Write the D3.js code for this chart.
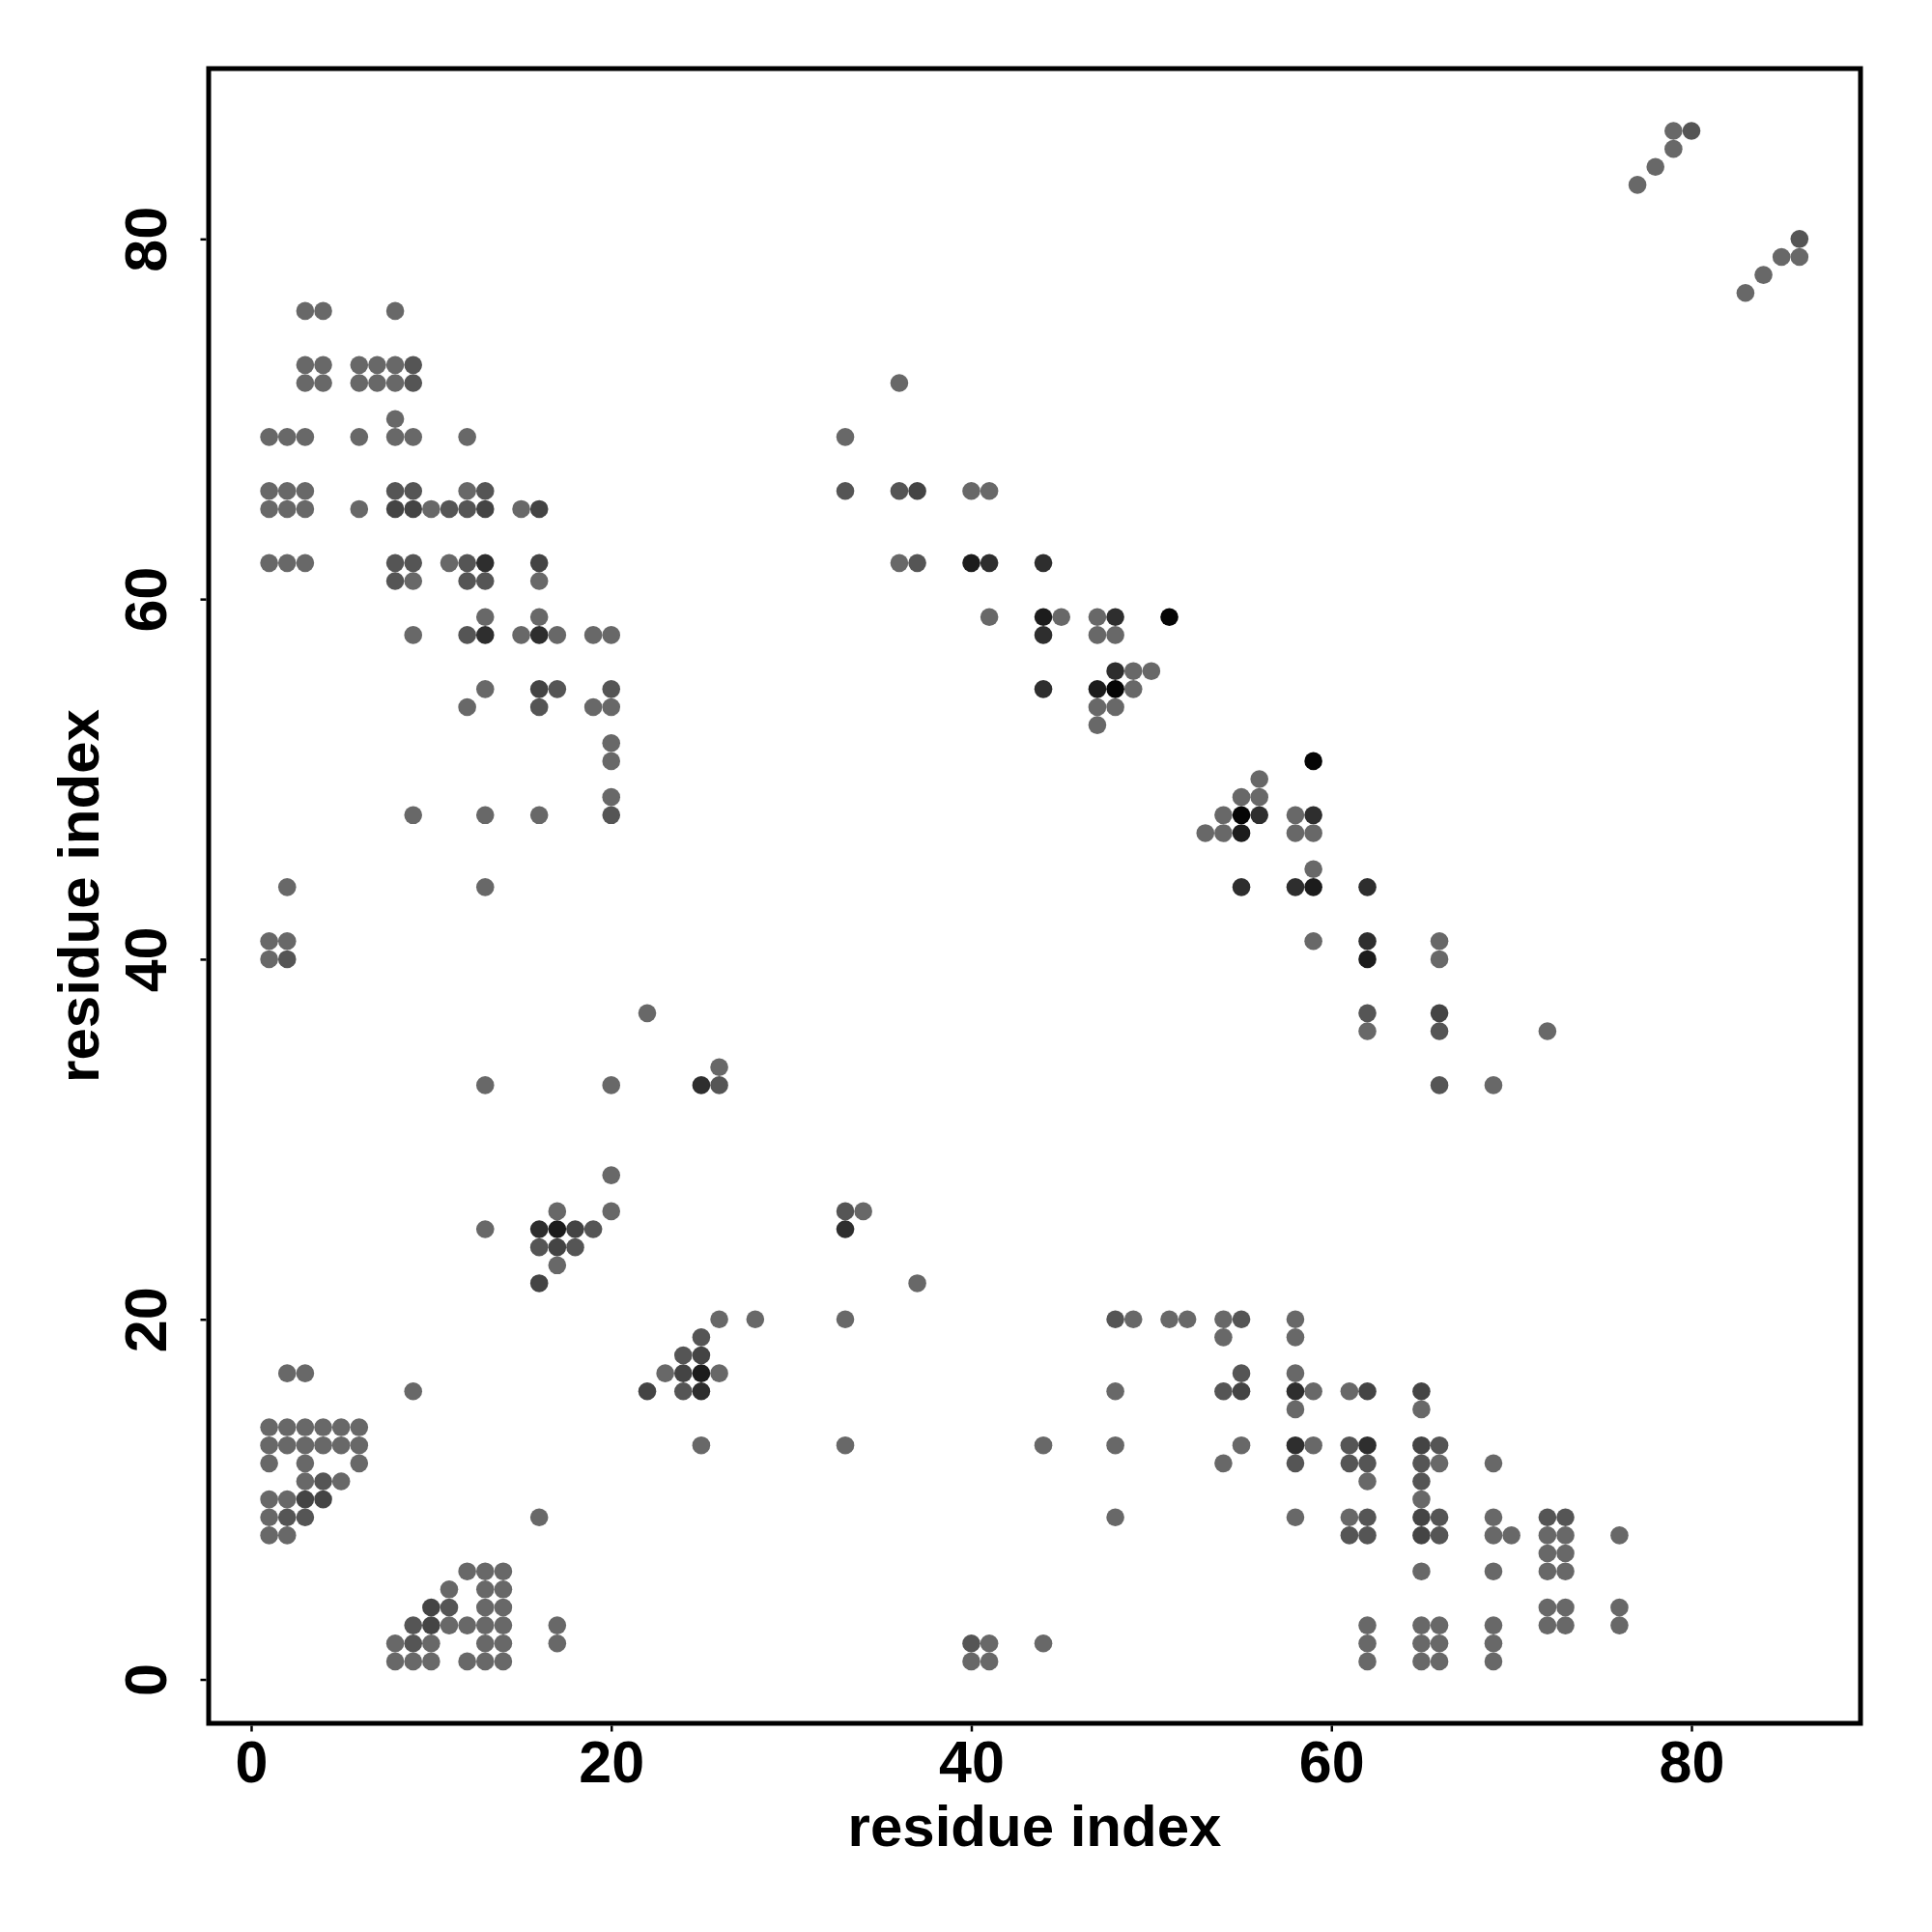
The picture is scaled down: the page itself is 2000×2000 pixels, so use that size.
<!DOCTYPE html>
<html>
<head>
<meta charset="utf-8">
<script src="https://cdn.jsdelivr.net/npm/d3@7"></script>
<style>
    body{ margin: 0; background: #fff; }
    svg text{ font-family: "Liberation Sans", Arial, Helvetica, sans-serif; font-weight: bold; fill: #000; }
</style>
</head>
<body>
<div id="chart"></div>
<script>
// contacts [i, j, level] with i < j, level = darkness read off the dot (0 light grey .. 5 black)
// the map is symmetric, so every contact is drawn at (i, j) and (j, i)
const blockContacts = [
    [3,76,0],[4,76,0],[8,76,0],
    [3,73,0],[4,73,0],[6,73,0],[7,73,0],[8,73,0],[9,73,1],
    [3,72,0],[4,72,0],[6,72,0],[7,72,0],[8,72,0],[9,72,1],
    [8,70,0],
    [1,69,0],[2,69,0],[3,69,0],[6,69,0],[8,69,0],[9,69,0],[12,69,0],
    [1,66,0],[2,66,0],[3,66,0],[8,66,1],[9,66,1],[12,66,0],[13,66,1],
    [1,65,0],[2,65,0],[3,65,0],[6,65,0],[8,65,2],[9,65,2],[10,65,0],[11,65,1],[12,65,1],[13,65,2],[15,65,0],[16,65,2],
    [1,62,0],[2,62,0],[3,62,0],[8,62,1],[9,62,1],[11,62,0],[12,62,1],[13,62,3],[16,62,2],
    [8,61,1],[9,61,0],[12,61,1],[13,61,1],[16,61,0],
    [13,59,0],[16,59,0],
    [9,58,0],[12,58,1],[13,58,3],[15,58,0],[16,58,3],[17,58,0],[19,58,0],[20,58,0],
    [13,55,0],[16,55,2],[17,55,1],[20,55,1],
    [12,54,0],[16,54,1],[19,54,0],[20,54,0],
    [20,52,0],[20,51,0],[20,49,0],
    [9,48,0],[13,48,0],[16,48,0],[20,48,1],
    [2,44,0],[13,44,0],
    [1,41,0],[2,41,0],[1,40,0],[2,40,1]
];

const localContacts = [
    [22,37,0],[26,34,0],
    [13,33,0],[20,33,0],[25,33,3],[26,33,1],
    [20,28,0],[17,26,0],[20,26,0],
    [13,25,0],[16,25,3],[17,25,4],[18,25,2],[19,25,1],
    [16,24,1],[17,24,2],[18,24,1],
    [17,23,0],[16,22,2],
    [2,17,0],[3,17,0],[9,16,0],
    [1,14,0],[2,14,0],[3,14,0],[4,14,0],[5,14,0],[6,14,0],
    [1,13,0],[2,13,0],[3,13,0],[4,13,0],[5,13,0],[6,13,0],
    [1,12,0],[3,12,0],[6,12,0],
    [3,11,0],[4,11,1],[5,11,0],
    [1,10,0],[2,10,0],[3,10,2],[4,10,2],
    [1,9,0],[2,9,1],[3,9,1],
    [1,8,0],[2,8,0]
];

const bandContacts = [
    [36,72,0],[33,69,0],
    [33,66,1],[36,66,1],[37,66,2],[40,66,0],[41,66,0],
    [36,62,0],[37,62,1],[40,62,4],[41,62,3],[44,62,3],
    [41,59,0],[44,59,4],[45,59,0],[47,59,0],[48,59,3],[51,59,5],
    [44,58,3],[47,58,0],[48,58,0],
    [48,56,3],[49,56,0],[50,56,0],
    [44,55,3],[47,55,4],[48,55,5],[49,55,0],
    [47,54,0],[48,54,0],[47,53,0]
];

const tailContacts = [
    [77,83,0],[78,84,0],[79,85,0],[79,86,0],[80,86,1]
];

const xTicks = [0, 20, 40, 60, 80];
const yTicks = [0, 20, 40, 60, 80];
const xTitle = "residue index";
const yTitle = "residue index";

class ContactMap{
    constructor(parentSelector, contacts){
        this.parent = d3.select(parentSelector);
        this.contacts = contacts;

        this.wSvg = 2000;
        this.hSvg = 2000;
        this.panel = { left: 216, right: 1926, top: 71, bottom: 1784 };
        this.radius = 9.3;

        this.init();
    }

    init(){
        this.svg = this.parent.append("svg")
            .attr("width", this.wSvg)
            .attr("height", this.hSvg);

        this.svg.append("rect")
            .attr("width", this.wSvg)
            .attr("height", this.hSvg)
            .attr("fill", "#fff");

        this.prepScales();
        this.renderPoints();
        this.renderFrame();
        this.renderAxes();
        this.renderTitles();
    }

    prepScales(){
        this.xScale = d3.scaleLinear()
            .domain([-2.36, 89.39])
            .range([this.panel.left, this.panel.right]);

        this.yScale = d3.scaleLinear()
            .domain([-2.44, 89.46])
            .range([this.panel.bottom, this.panel.top]);

        this.shade = d3.scaleLinear()
            .domain([0, 1, 2, 3, 4, 5])
            .range(["#686868", "#555555", "#444444", "#2e2e2e", "#1c1c1c", "#050505"]);
    }

    renderPoints(){
        // both halves of the symmetric map
        const points = this.contacts.flatMap(([i, j, level]) => [
            { x: i, y: j, level: level },
            { x: j, y: i, level: level }
        ]).sort((a, b) => a.level - b.level);

        this.svg.append("g").classed("pointGroup", true)
            .selectAll("circle")
            .data(points)
            .enter()
            .append("circle")
                .attr("cx", d => this.xScale(d.x))
                .attr("cy", d => this.yScale(d.y))
                .attr("r", this.radius)
                .attr("fill", d => this.shade(d.level));
    }

    renderFrame(){
        this.svg.append("rect")
            .attr("x", this.panel.left)
            .attr("y", this.panel.top)
            .attr("width", this.panel.right - this.panel.left)
            .attr("height", this.panel.bottom - this.panel.top)
            .attr("fill", "none")
            .attr("stroke", "#000")
            .attr("stroke-width", 5);
    }

    renderAxes(){
        const xAxis = this.svg.append("g")
            .attr("transform", `translate(0, ${this.panel.bottom + 2.5})`)
            .call(d3.axisBottom(this.xScale).tickValues(xTicks).tickSize(6).tickPadding(9));
        xAxis.select(".domain").remove();
        xAxis.selectAll("line").attr("stroke", "#000").attr("stroke-width", 2.5);
        xAxis.selectAll("text")
            .attr("font-size", 61)
            .attr("fill", "#000");

        const yAxis = this.svg.append("g")
            .attr("transform", `translate(${this.panel.left - 2.5}, 0)`)
            .call(d3.axisLeft(this.yScale).tickValues(yTicks).tickSize(6));
        yAxis.select(".domain").remove();
        yAxis.selectAll("line").attr("stroke", "#000").attr("stroke-width", 2.5);
        yAxis.selectAll("text")
            .attr("x", null)
            .attr("dy", null)
            .attr("text-anchor", "middle")
            .attr("transform", "translate(-41.5, 0) rotate(-90)")
            .attr("font-size", 61)
            .attr("fill", "#000");
    }

    renderTitles(){
        this.svg.append("text")
            .attr("x", (this.panel.left + this.panel.right) / 2)
            .attr("y", 1911)
            .attr("text-anchor", "middle")
            .attr("font-size", 60)
            .text(xTitle);

        this.svg.append("text")
            .attr("transform", `translate(102, ${(this.panel.top + this.panel.bottom) / 2}) rotate(-90)`)
            .attr("text-anchor", "middle")
            .attr("font-size", 60)
            .text(yTitle);
    }
}

new ContactMap("#chart", [...blockContacts, ...localContacts, ...bandContacts, ...tailContacts]);
</script>
</body>
</html>
